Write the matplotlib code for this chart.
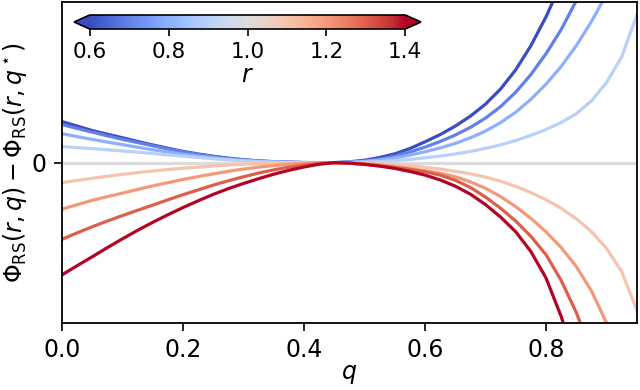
import numpy as np
import matplotlib
matplotlib.use("Agg")
import matplotlib.pyplot as plt
from matplotlib import cm, colors

plt.rcParams["font.family"] = "DejaVu Sans"
plt.rcParams["mathtext.fontset"] = "dejavusans"

nan = np.nan

# overlap q grid
q = [0.0, 0.025, 0.05, 0.075, 0.10, 0.125, 0.15, 0.175, 0.20, 0.225, 0.25, 0.275,
     0.30, 0.325, 0.35, 0.375, 0.40, 0.425, 0.45, 0.475, 0.50, 0.525, 0.55, 0.575,
     0.60, 0.625, 0.65, 0.675, 0.70, 0.725, 0.75, 0.775, 0.80, 0.825, 0.85,
     0.875, 0.90, 0.925, 0.95]

r_values = [0.6, 0.7, 0.8, 0.9, 1.0, 1.1, 1.2, 1.3, 1.4]

phi_r06 = [0.256, 0.228, 0.20, 0.177, 0.155, 0.132, 0.11, 0.09, 0.07, 0.054, 0.04, 0.028,
           0.018, 0.011, 0.006, 0.003, 0.001, 0.0, 0.0, 0.005, 0.015, 0.032, 0.055, 0.088,
           0.13, 0.175, 0.228, 0.29, 0.365, 0.46, 0.58, 0.73, 0.91, 1.12, 1.36,
           nan, nan, nan, nan]
phi_r07 = [0.238, 0.213, 0.19, 0.167, 0.145, 0.125, 0.105, 0.085, 0.067, 0.051, 0.038, 0.026,
           0.017, 0.01, 0.005, 0.002, 0.0, 0.0, 0.0, 0.003, 0.01, 0.022, 0.04, 0.066,
           0.097, 0.132, 0.172, 0.22, 0.278, 0.35, 0.44, 0.55, 0.68, 0.83, 1.01,
           1.22, nan, nan, nan]
phi_r08 = [0.181, 0.162, 0.145, 0.128, 0.112, 0.096, 0.08, 0.066, 0.052, 0.04, 0.03, 0.021,
           0.013, 0.008, 0.004, 0.001, 0.0, 0.0, 0.0, 0.002, 0.007, 0.016, 0.029, 0.047,
           0.068, 0.092, 0.12, 0.155, 0.197, 0.25, 0.315, 0.395, 0.49, 0.60, 0.73,
           0.88, 1.05, 1.25, nan]
phi_r09 = [0.10, 0.094, 0.087, 0.08, 0.073, 0.065, 0.057, 0.048, 0.04, 0.032, 0.024, 0.017,
           0.011, 0.006, 0.003, 0.001, 0.0, 0.0, 0.0, 0.001, 0.003, 0.007, 0.012, 0.02,
           0.03, 0.041, 0.054, 0.07, 0.089, 0.111, 0.138, 0.17, 0.207, 0.25, 0.305,
           0.385, 0.50, 0.66, 0.92]
phi_r10 = [0.0] * 39
phi_r11 = [-0.125, -0.111, -0.098, -0.085, -0.073, -0.062, -0.052, -0.043, -0.035, -0.028, -0.021, -0.015,
           -0.01, -0.006, -0.003, -0.001, 0.0, 0.0, 0.0, -0.001, -0.003, -0.007, -0.012, -0.02,
           -0.029, -0.04, -0.054, -0.07, -0.09, -0.116, -0.148, -0.187, -0.232, -0.285, -0.35,
           -0.43, -0.535, -0.68, -0.92]
phi_r12 = [-0.29, -0.262, -0.235, -0.212, -0.19, -0.167, -0.145, -0.125, -0.105, -0.087, -0.07, -0.054,
           -0.04, -0.028, -0.018, -0.01, -0.004, -0.001, 0.0, -0.002, -0.006, -0.014, -0.025, -0.038,
           -0.05, -0.066, -0.088, -0.12, -0.16, -0.212, -0.275, -0.348, -0.432, -0.53, -0.648,
           -0.80, -1.0, -1.25, nan]
phi_r13 = [-0.478, -0.438, -0.40, -0.364, -0.33, -0.297, -0.265, -0.232, -0.20, -0.17, -0.14, -0.113,
           -0.088, -0.065, -0.045, -0.028, -0.015, -0.005, 0.0, -0.003, -0.01, -0.019, -0.03, -0.042,
           -0.057, -0.078, -0.11, -0.155, -0.215, -0.285, -0.365, -0.46, -0.575, -0.735, -0.935,
           -1.18, nan, nan, nan]
phi_r14 = [-0.70, -0.643, -0.587, -0.53, -0.475, -0.422, -0.372, -0.325, -0.28, -0.238, -0.198, -0.162,
           -0.13, -0.10, -0.072, -0.048, -0.027, -0.01, 0.0, -0.003, -0.011, -0.022, -0.036, -0.055,
           -0.078, -0.108, -0.147, -0.197, -0.262, -0.34, -0.432, -0.555, -0.72, -0.96, -1.25,
           nan, nan, nan, nan]

curves = [phi_r06, phi_r07, phi_r08, phi_r09, phi_r10, phi_r11, phi_r12, phi_r13, phi_r14]

cmap = plt.get_cmap("coolwarm")
norm = colors.Normalize(vmin=0.6, vmax=1.4)

fig = plt.figure(figsize=(6.4, 3.9), dpi=100)
ax = fig.add_axes([0.097, 0.172, 0.898, 0.822])

for r, phi in zip(r_values, curves):
    ax.plot(q, phi, color=cmap(norm(r)), lw=2.3, solid_joinstyle="round")

ax.set_xlim(0, 0.95)
ax.set_ylim(-1.0, 1.0)
ax.set_xticks([0.0, 0.2, 0.4, 0.6, 0.8])
ax.set_yticks([0])
ax.tick_params(labelsize=17, length=6, width=1.2, pad=5)
for s in ax.spines.values():
    s.set_linewidth(1.3)
ax.set_xlabel("$q$", fontsize=17, labelpad=0)
ax.set_ylabel(r"$\Phi_{\mathrm{RS}}(r,q) - \Phi_{\mathrm{RS}}(r,q^\star)$", fontsize=17, labelpad=2)

# inset colorbar
cax = fig.add_axes([74 / 640, 1 - 29 / 390, (421 - 74) / 640, 14 / 390])
sm = cm.ScalarMappable(norm=norm, cmap=cmap)
cb = fig.colorbar(sm, cax=cax, orientation="horizontal", extend="both",
                  ticks=[0.6, 0.8, 1.0, 1.2, 1.4])
cb.outline.set_linewidth(1.2)
cb.ax.tick_params(labelsize=15.5, length=5, width=1.2, pad=4)
cb.set_label("$r$", fontsize=17, labelpad=1)

fig.savefig("out.png", dpi=100)
